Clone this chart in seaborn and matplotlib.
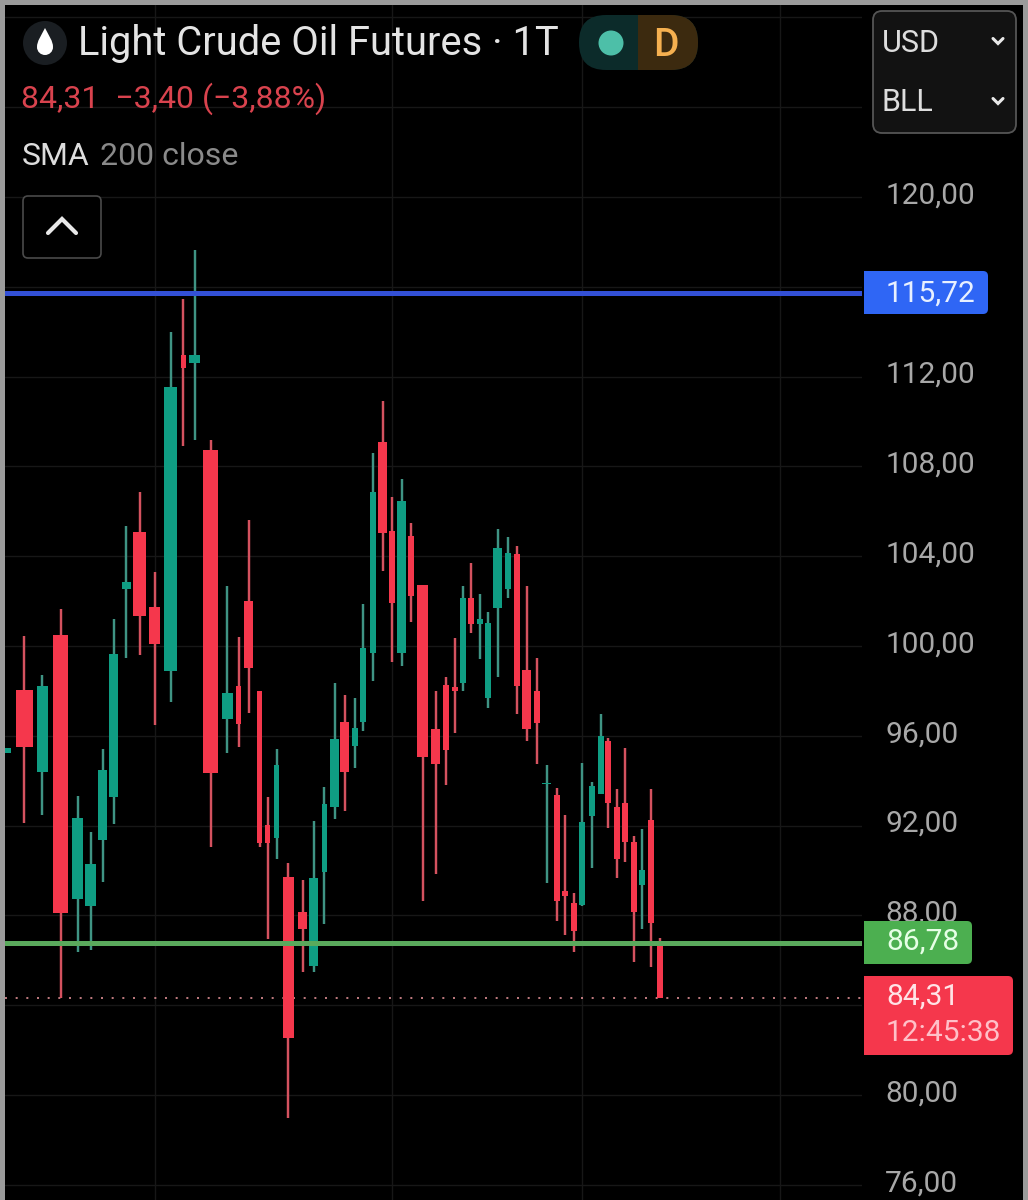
import matplotlib
matplotlib.use("Agg")
import matplotlib.pyplot as plt
import pandas as pd
import seaborn as sns
from matplotlib.patches import FancyBboxPatch, Rectangle, Circle, PathPatch
from matplotlib.path import Path
from matplotlib.transforms import ScaledTranslation

# ---- data ----
session_x = [3, 24.5, 42.5, 61, 78, 91, 103, 114, 126.5, 140, 155, 171, 183.5, 195, 211, 227.5, 239, 249, 260, 268,
             277, 288.5, 303, 314, 324.5, 335, 345, 355, 363, 373, 383, 392, 402, 411, 423, 436, 446, 455, 463, 471,
             480, 488, 498, 508, 517, 527, 537, 547, 557, 565, 574, 582, 592, 601, 608, 617, 625, 634, 642, 651, 660]
high = [95.46, 100.45, 98.71, 101.65, 93.32, 91.72, 95.41, 101.20, 105.35, 106.86, 103.30, 113.99, 115.46, 117.64,
        109.18, 102.67, 100.40, 105.61, 98.00, 93.27, 95.41, 90.33, 89.58, 92.20, 93.72, 98.35, 97.82, 97.68, 101.87,
        108.60, 110.91, 106.64, 107.44, 105.48, 102.72, 98.00, 98.62, 100.36, 102.67, 103.70, 102.32, 101.51, 105.21,
        104.86, 104.45, 102.67, 99.47, 94.70, 93.67, 92.47, 89.00, 94.79, 93.94, 96.97, 95.90, 93.63, 95.46, 91.54,
        91.85, 93.63, 86.99]
body_top = [95.46, 98.04, 98.22, 100.49, 92.34, 90.29, 94.48, 99.64, 102.85, 105.08, 101.74, 111.54, 112.96, 112.96,
            108.73, 97.91, 98.22, 102.00, 98.00, 92.03, 94.70, 89.71, 88.15, 89.67, 92.96, 95.86, 96.61, 96.35, 99.91,
            106.86, 109.09, 105.12, 106.46, 104.90, 102.72, 96.30, 98.26, 98.17, 102.14, 102.14, 101.20, 101.02, 104.37,
            104.14, 104.10, 98.93, 98.00, 93.90, 93.36, 89.09, 88.55, 92.16, 93.76, 95.99, 95.77, 92.83, 93.01, 91.27,
            90.02, 92.25, 86.64]
body_bottom = [95.23, 95.50, 94.39, 88.11, 88.73, 88.42, 91.36, 93.27, 102.54, 101.34, 100.09, 98.89, 112.38, 112.61,
               94.34, 96.75, 96.53, 99.02, 91.23, 91.23, 91.45, 82.54, 87.39, 85.75, 89.93, 92.83, 94.39, 95.55, 96.61,
               99.69, 105.03, 101.92, 99.69, 102.23, 95.06, 94.74, 95.37, 98.00, 98.35, 100.98, 100.98, 97.68, 101.69,
               102.54, 98.22, 96.30, 96.57, 93.85, 88.64, 88.86, 87.31, 88.46, 92.43, 93.41, 93.01, 90.51, 91.27, 88.15,
               89.35, 87.66, 84.31]
low = [95.23, 92.12, 92.47, 84.31, 86.37, 86.46, 89.49, 92.07, 99.47, 99.60, 96.48, 97.51, 108.91, 109.18, 91.05, 95.23,
       95.50, 97.02, 91.05, 86.95, 90.51, 78.98, 85.48, 85.48, 87.62, 92.29, 92.65, 94.57, 96.21, 98.44, 103.34, 99.29,
       99.11, 101.07, 88.64, 89.84, 93.81, 96.12, 98.00, 100.58, 99.42, 97.24, 98.62, 102.14, 96.97, 95.77, 94.74, 89.44,
       87.75, 87.13, 86.37, 88.42, 90.11, 93.41, 91.89, 89.67, 90.38, 85.92, 87.39, 85.70, 84.31]
rising_candles = {1, 3, 5, 6, 7, 8, 9, 12, 14, 16, 21, 24, 25, 26, 28, 29, 30, 33, 39, 41, 42, 43, 44, 48, 52, 53, 54, 59}
price_ticks = [76, 80, 84, 88, 92, 96, 100, 104, 108, 112, 116, 120, 124, 128]
price_labels = ["76,00", "80,00", "", "88,00", "92,00", "96,00", "100,00", "104,00", "108,00", "112,00", "",
                "120,00", "", ""]
time_grid = [155, 392, 582, 780]
level_blue = 115.72
level_green = 86.78
last_price = 84.31

# ---- styling only ----
body_widths = [16, 17, 11, 15, 11, 11, 9, 9, 9, 13, 11, 13, 5, 11, 15, 11, 5, 9, 5, 5, 5, 11, 9, 9, 5, 9, 9, 6, 6, 6, 9,
               6, 9, 6, 11, 9, 6, 6, 6, 6, 6, 6, 9, 6, 6, 9, 6, 9, 6, 6, 6, 6, 6, 6, 6, 6, 6, 6, 6, 6, 6]
UP, DOWN = "#0f9d83", "#f5374c"
UP_WICK, DOWN_WICK = "#3f9484", "#d4525f"
FONT = "Roboto"

sns.set_theme(style="dark", rc={"figure.facecolor": "black", "axes.facecolor": "black"})
plt.rcParams["font.family"] = [FONT, "DejaVu Sans"]

fig = plt.figure(figsize=(10.28, 12), dpi=100, facecolor="black")
ax = fig.add_axes([5 / 1028, 0, 857 / 1028, 1195 / 1200])
ax.set_facecolor("black")

n = len(session_x)
direction = ["up" if (i + 1) in rising_candles else "down" for i in range(n)]
wicks = pd.DataFrame({"candle": list(range(n)) * 2, "x": session_x * 2, "price": high + low, "dir": direction * 2})
sns.lineplot(data=wicks, x="x", y="price", units="candle", hue="dir", estimator=None, sort=False,
             palette={"up": UP_WICK, "down": DOWN_WICK}, linewidth=1.75, legend=False, ax=ax, zorder=2,
             solid_capstyle="butt")
heights = [t - b for t, b in zip(body_top, body_bottom)]
ax.bar(session_x, heights, bottom=body_bottom, width=body_widths,
       color=[UP if d == "up" else DOWN for d in direction], linewidth=0, zorder=3)

ax.set_xlim(5, 862)
ax.set_ylim(75.32, 128.55)
ax.set_xlabel("")
ax.set_ylabel("")
ax.set_xticks(time_grid)
ax.set_xticklabels([])
ax.set_yticks(price_ticks)
ax.set_yticklabels(price_labels)
ax.grid(True, color="#171717", linewidth=1)
ax.set_axisbelow(True)
ax.tick_params(axis="both", length=0)
ax.yaxis.tick_right()
ax.tick_params(axis="y", pad=16.8, labelsize=21.5, labelcolor="#a8a8a8")
offset = ScaledTranslation(0, -6.5 / 100, fig.dpi_scale_trans)
for lab in ax.get_yticklabels():
    lab.set_verticalalignment("baseline")
    lab.set_transform(lab.get_transform() + offset)
for s in ax.spines.values():
    s.set_visible(False)

ax.axhline(level_blue, color="#3350d6", linewidth=3.6, zorder=4)
ax.axhline(level_green, color="#5aa95c", linewidth=3.6, zorder=4)
ax.axhline(last_price, color="#e08f95", linewidth=1.2, linestyle=(0, (1.2, 5.2)), zorder=1.5)

# ---- interface overlay, in picture pixels ----
ui = fig.add_axes([0, 0, 1, 1])
ui.set_xlim(0, 1028)
ui.set_ylim(1200, 0)
ui.axis("off")
ui.patch.set_alpha(0)


def rounded(x0, y0, x1, y1, r, face, edge="none", lw=0, z=5):
    p = FancyBboxPatch((x0 + r, y0 + r), x1 - x0 - 2 * r, y1 - y0 - 2 * r, boxstyle=f"round,pad={r},rounding_size={r}",
                       facecolor=face, edgecolor=edge, linewidth=lw, zorder=z)
    ui.add_patch(p)
    return p


def tag(x1, y0, y1, face):
    rounded(864, y0, x1, y1, 5, face)
    ui.add_patch(Rectangle((864, y0), 20, y1 - y0, facecolor=face, edgecolor="none", zorder=5))


def txt(x, y, s, size, color, **kw):
    ui.text(x, y, s, fontsize=size, color=color, ha=kw.pop("ha", "left"), va="baseline", zorder=8, **kw)


def chevron(x, y, w, h, color, up=False, lw=1.8):
    s = -1 if up else 1
    ui.plot([x - w, x, x + w], [y - s * h, y + s * h, y - s * h], color=color, lw=lw, zorder=8,
            solid_capstyle="round", solid_joinstyle="miter")


# frame
for r in [(0, 0, 5, 1200), (0, 0, 1028, 5), (1023, 0, 5, 1200)]:
    ui.add_patch(Rectangle((r[0], r[1]), r[2], r[3], facecolor="#9b9b9b", edgecolor="none", zorder=9))

# oil icon
ui.add_patch(Circle((45, 43), 22, facecolor="#1a1e22", edgecolor="none", zorder=5))
drop = Path([(45, 28), (49, 36), (53, 41), (53, 47), (53, 52), (49, 55), (45, 55), (41, 55), (37, 52), (37, 47),
             (37, 41), (41, 36), (45, 28), (45, 28)],
            [Path.MOVETO] + [Path.CURVE4] * 12 + [Path.CLOSEPOLY])
ui.add_patch(PathPatch(drop, facecolor="white", edgecolor="none", zorder=6))

txt(78, 55, "Light Crude Oil Futures · 1T", 28.7, "#e4e4e4")

# status pill
pill = rounded(579, 15, 698, 70, 27, "#0c2b2a")
right = Rectangle((638, 15), 60, 55, facecolor="#3c2a0f", edgecolor="none", zorder=6)
ui.add_patch(right)
right.set_clip_path(pill)
ui.add_patch(Circle((611, 43), 12.5, facecolor="#4dbfa8", edgecolor="none", zorder=7))
txt(666, 56, "D", 28, "#f5b050", ha="center", fontweight="medium")

txt(21, 108, "84,31  −3,40 (−3,88%)", 23, "#d9434e")
txt(22, 165, "SMA", 23, "#dddddd")
txt(100, 165, "200 close", 23, "#8a8a8a")

rounded(23, 196, 101, 258, 5, "black", "#4a4a4a", 1.2)
chevron(62, 226, 14, 7, "#e8e8e8", up=True, lw=3)

# currency / unit box
rounded(873, 11, 1016, 133, 9, "#121212", "#555555", 1.3)
txt(882, 52, "USD", 22, "#dddddd")
txt(882, 111, "BLL", 22, "#dddddd")
chevron(998, 41, 5, 2.5, "#e8e8e8", lw=2.2)
chevron(998, 101, 5, 2.5, "#e8e8e8", lw=2.2)

# price tags
tag(988, 271, 314, "#2f66f5")
txt(886, 302, "115,72", 21.5, "#e8f0ff")
tag(972, 921, 964, "#4caf50")
txt(886, 950, "86,78", 21.5, "#e6ffe6")
tag(1013, 976, 1055, "#f5374c")
txt(886, 1005, "84,31", 21.5, "#ffe3e6")
txt(886, 1041, "12:45:38", 21.5, "#ffc0c8")

fig.savefig("out.png", dpi=100, facecolor="black")
